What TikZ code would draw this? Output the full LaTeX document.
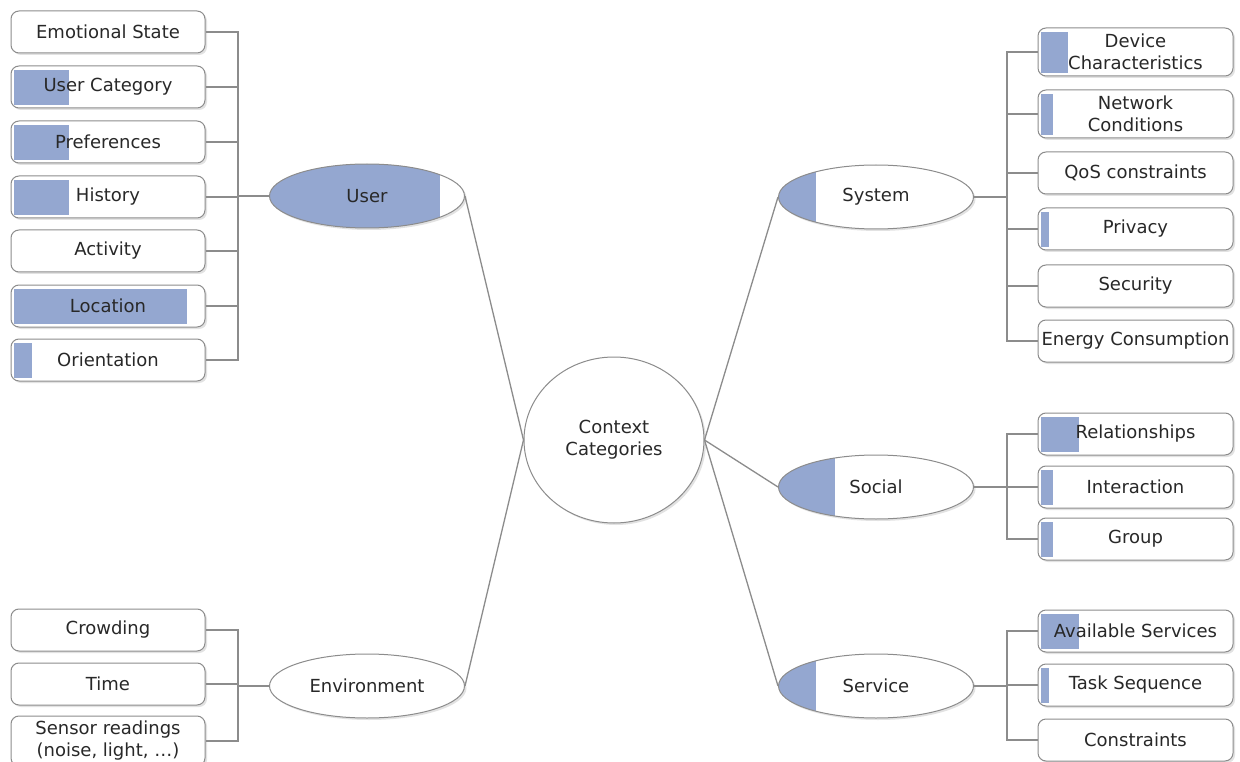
\documentclass[tikz,border=0pt]{standalone}
\usepackage{fontspec}
\setmainfont{DejaVu Sans}
\usetikzlibrary{shapes.geometric,shadows,calc}
\definecolor{barblue}{RGB}{148,167,208}
\definecolor{edgegray}{RGB}{140,140,140}
\definecolor{txt}{RGB}{40,40,40}
\tikzset{
  softshadow/.style={drop shadow={shadow xshift=2pt,shadow yshift=-2pt,opacity=0.25,fill=black!45}},
  leaf/.style={draw=edgegray, line width=1pt, fill=white, rounded corners=8pt,
    minimum width=194pt, minimum height=42pt, inner sep=0pt, align=center,
    text=txt, font=\fontsize{18}{22}\selectfont, softshadow},
  bar/.style={path picture={\fill[barblue,sharp corners] ([shift={(3pt,-4pt)}]path picture bounding box.north west)
    rectangle ([shift={(#1,3pt)}]path picture bounding box.south west);}},
  cat/.style={ellipse, draw=edgegray, line width=1pt, fill=white, minimum width=195pt,
    minimum height=64pt, inner sep=0pt, text=txt, font=\fontsize{18}{22}\selectfont, softshadow},
  catfill/.style={path picture={\fill[barblue,sharp corners] (path picture bounding box.north west)
    rectangle ([xshift=#1]path picture bounding box.south west);}},
  link/.style={draw=edgegray, line width=1.3pt},
}
\begin{document}
\begin{tikzpicture}[x=1pt,y=-1pt]
\useasboundingbox (0,0) rectangle (1240,762);
\clip (0,0) rectangle (1240,762);
\fill[white] (0,0) rectangle (1240,762);

% trunk positions
\coordinate (lt) at (238,0);
\coordinate (rt) at (1007,0);

% user context
\node[leaf] (emo)  at (108,32)  {Emotional State};
\node[leaf,bar=58pt] (ucat) at (108,87)  {User Category};
\node[leaf,bar=58pt] (pref) at (108,142) {Preferences};
\node[leaf,bar=58pt] (hist) at (108,197) {History};
\node[leaf] (act)  at (108,251) {Activity};
\node[leaf,bar=176pt] (loc) at (108,306) {Location};
\node[leaf,bar=21pt] (ori) at (108,360) {Orientation};

% environment context
\node[leaf] (crowd) at (108,630) {Crowding};
\node[leaf] (time)  at (108,684) {Time};
\node[leaf,minimum height=50pt] (sensor) at (108,741) {Sensor readings\\(noise, light, \dots)};

% category ellipses
\node[cat,catfill=170pt] (user) at (367,196) {User};
\node[cat] (env) at (367,686) {Environment};
\node[cat,catfill=37pt] (sys) at (876,197) {System};
\node[cat,catfill=56pt] (soc) at (876,487) {Social};
\node[cat,catfill=37pt] (svc) at (876,686) {Service};

% centre
\node[ellipse, draw=edgegray, line width=1pt, fill=white, minimum width=180pt,
  minimum height=166pt, inner sep=0pt, align=center, text=txt,
  font=\fontsize{18}{22}\selectfont, softshadow] (ctx) at (614,440) {Context\\Categories};

% system context
\node[leaf,minimum width=195pt,minimum height=48pt,bar=30pt] (dev) at (1135.5,52) {Device\\Characteristics};
\node[leaf,minimum width=195pt,minimum height=48pt,bar=15pt] (net) at (1135.5,114) {Network\\Conditions};
\node[leaf,minimum width=195pt] (qos) at (1135.5,173) {QoS constraints};
\node[leaf,minimum width=195pt,bar=11pt] (priv) at (1135.5,229) {Privacy};
\node[leaf,minimum width=195pt] (sec) at (1135.5,286) {Security};
\node[leaf,minimum width=195pt] (energy) at (1135.5,341) {Energy Consumption};

% social context
\node[leaf,minimum width=195pt,bar=41pt] (rel) at (1135.5,434) {Relationships};
\node[leaf,minimum width=195pt,bar=15pt] (inter) at (1135.5,487) {Interaction};
\node[leaf,minimum width=195pt,bar=15pt] (grp) at (1135.5,539) {Group};

% service context
\node[leaf,minimum width=195pt,bar=41pt] (avail) at (1135.5,631) {Available Services};
\node[leaf,minimum width=195pt,bar=11pt] (task) at (1135.5,685) {Task Sequence};
\node[leaf,minimum width=195pt] (cons) at (1135.5,740) {Constraints};

% spokes to the centre
\draw[link] (user.east) -- (ctx.west);
\draw[link] (env.east) -- (ctx.west);
\draw[link] (sys.west) -- (ctx.east);
\draw[link] (soc.west) -- (ctx.east);
\draw[link] (svc.west) -- (ctx.east);

% left trunks
\draw[link] (emo.east) -- (emo.east -| lt) -- (ori.east -| lt) -- (ori.east);
\foreach \n in {ucat,pref,hist,act,loc} \draw[link] (\n.east) -- (\n.east -| lt);
\draw[link] (user.west) -- (user.west -| lt);

\draw[link] (crowd.east) -- (crowd.east -| lt) -- (sensor.east -| lt) -- (sensor.east);
\draw[link] (time.east) -- (time.east -| lt);
\draw[link] (env.west) -- (env.west -| lt);

% right trunks
\draw[link] (dev.west) -- (dev.west -| rt) -- (energy.west -| rt) -- (energy.west);
\foreach \n in {net,qos,priv,sec} \draw[link] (\n.west) -- (\n.west -| rt);
\draw[link] (sys.east) -- (sys.east -| rt);

\draw[link] (rel.west) -- (rel.west -| rt) -- (grp.west -| rt) -- (grp.west);
\draw[link] (inter.west) -- (inter.west -| rt);
\draw[link] (soc.east) -- (soc.east -| rt);

\draw[link] (avail.west) -- (avail.west -| rt) -- (cons.west -| rt) -- (cons.west);
\draw[link] (task.west) -- (task.west -| rt);
\draw[link] (svc.east) -- (svc.east -| rt);
\end{tikzpicture}
\end{document}
